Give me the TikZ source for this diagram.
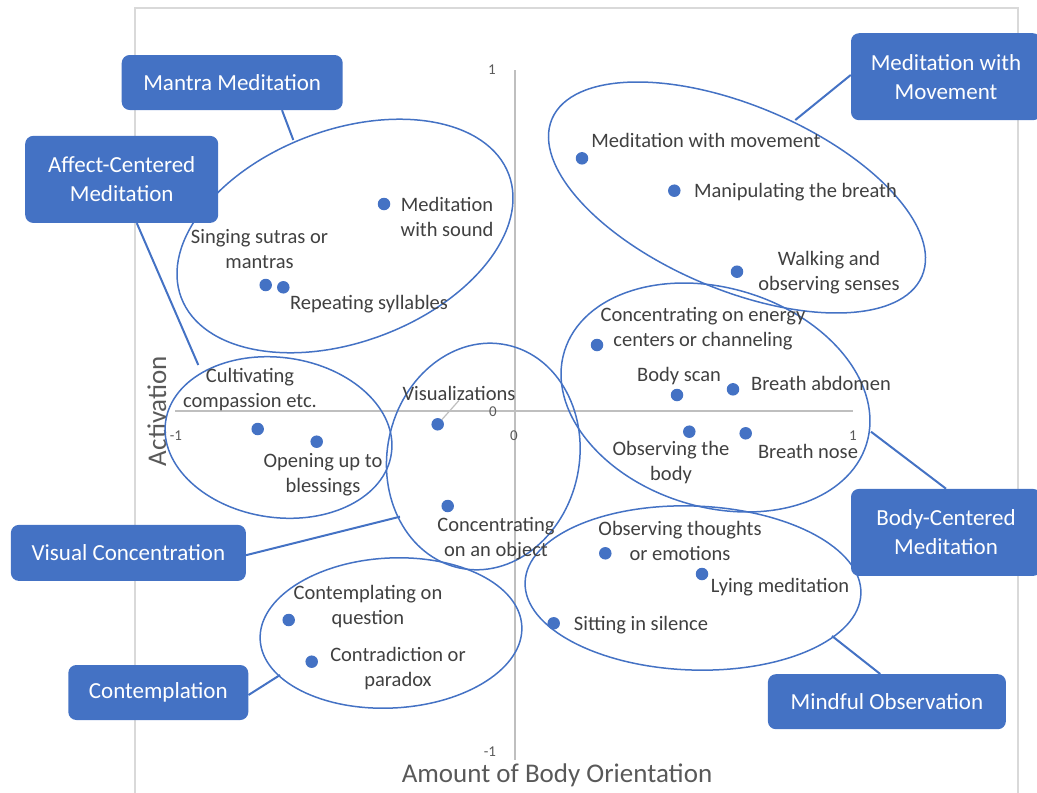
\documentclass[tikz,border=0pt]{standalone}
\usepackage{fontspec}
\setmainfont{Carlito}
\usetikzlibrary{calc}
\definecolor{cblue}{HTML}{4472C4}
\definecolor{ctext}{HTML}{404040}
\definecolor{caxis}{HTML}{BFBFBF}
\definecolor{cframe}{HTML}{D9D9D9}
\definecolor{ctitle}{HTML}{595959}
\tikzset{
  ell/.style={draw=cblue, line width=1.5pt},
  conn/.style={draw=cblue, line width=2pt},
  catbox/.style={fill=cblue, rounded corners=8pt, text=white, align=center, inner sep=0pt,
    font=\fontsize{23}{29}\selectfont},
  dot/.style={circle, fill=cblue, minimum size=12.5pt, inner sep=0pt},
  lbl/.style={text=ctext, align=center, inner sep=0pt, font=\fontsize{20.5}{25}\selectfont},
  tick/.style={text=ctitle, inner sep=0pt, font=\fontsize{15}{18}\selectfont},
  atitle/.style={text=ctitle, inner sep=0pt, font=\fontsize{27}{32}\selectfont}
}
\begin{document}
\begin{tikzpicture}[x=1pt, y=-1pt]
\useasboundingbox (0,0) rectangle (1037,793);
% plot frame
\draw[cframe, line width=1.5pt] (135,793) -- (135,8) -- (1018,8) -- (1018,793);
% axes
\draw[caxis, line width=1.3pt] (515,70) -- (515,760);
\draw[caxis, line width=1.3pt] (175,411) -- (853,411);
% tick labels
\node[tick] (t1) at (492,70) {1};
\node[tick] (t0a) at (493,412) {0};
\node[tick] (t0b) at (514,436) {0};
\node[tick] (tm1) at (176,436) {-1};
\node[tick] (tp1) at (853,436) {1};
\node[tick] (tm1b) at (490,752) {-1};
% axis titles
\node[atitle, rotate=90] (yt) at (157,411) {Activation};
\node[atitle] (xt) at (557,775) {Amount of Body Orientation};

% ellipses
\draw[ell, rotate around={20.6:(345,236)}] (345,236) ellipse [x radius=175pt, y radius=106pt];
\draw[ell, rotate around={-23:(737,197.5)}] (737,197.5) ellipse [x radius=201pt, y radius=92pt];
\draw[ell, rotate around={-17:(715.5,397.5)}] (715.5,397.5) ellipse [x radius=158pt, y radius=109.5pt];
\draw[ell, rotate around={-2:(693,588)}] (693,588) ellipse [x radius=168pt, y radius=82pt];
\draw[ell, rotate around={-12:(483.3,456.5)}] (483.3,456.5) ellipse [x radius=96pt, y radius=114pt];
\draw[ell, rotate around={-8:(278.5,437.5)}] (278.5,437.5) ellipse [x radius=114pt, y radius=80pt];
\draw[ell, rotate around={3:(391,633)}] (391,633) ellipse [x radius=131pt, y radius=75pt];

% ellipse touch points
\coordinate (cMan) at (293.3,140);
\coordinate (cAff) at (198.3,365);
\coordinate (cMov) at (795.3,120);
\coordinate (cBody) at (871,431.7);
\coordinate (cMind) at (832,636);
\coordinate (cVis) at (400,516.7);
\coordinate (cCon) at (280,675);

% boxes
\node[catbox, minimum width=221pt, minimum height=55pt] (bMan) at (232.2,82.5) {Mantra Meditation};
\node[catbox, minimum width=193pt, minimum height=87pt] (bAff) at (121.7,179.4) {Affect-Centered\\Meditation};
\node[catbox, minimum width=190pt, minimum height=87pt] (bMov) at (946,76.7) {Meditation with\\Movement};
\node[catbox, minimum width=190pt, minimum height=87pt] (bBody) at (946,532.4) {Body-Centered\\Meditation};
\node[catbox, minimum width=238pt, minimum height=55pt] (bMind) at (886.9,701.7) {Mindful Observation};
\node[catbox, minimum width=235pt, minimum height=56pt] (bVis) at (128.4,552.9) {Visual Concentration};
\node[catbox, minimum width=180pt, minimum height=55pt] (bCon) at (158.3,692.5) {Contemplation};

% connectors
\draw[conn] ($(bMan.south west)!0.725!(bMan.south east)$) -- (cMan);
\draw[conn] ($(bAff.south west)!0.578!(bAff.south east)$) -- (cAff);
\draw[conn] ($(bMov.north west)!0.48!(bMov.south west)$) -- (cMov);
\draw[conn] (bBody.north) -- (cBody);
\draw[conn] ($(bMind.north west)!0.472!(bMind.north east)$) -- (cMind);
\draw[conn] ($(bVis.north east)!0.54!(bVis.south east)$) -- (cVis);
\draw[conn] ($(bCon.north east)!0.545!(bCon.south east)$) -- (cCon);

% dots
\node[dot] (dSound) at (384,204) {};
\node[dot] (dSing) at (265.7,285) {};
\node[dot] (dRep) at (283.3,287.3) {};
\node[dot] (dMove) at (582,158.3) {};
\node[dot] (dManip) at (674.3,190.7) {};
\node[dot] (dWalk) at (737,271.7) {};
\node[dot] (dEnergy) at (597,345) {};
\node[dot] (dScan) at (677,395) {};
\node[dot] (dAbd) at (733,389.3) {};
\node[dot] (dObsB) at (689.3,431.7) {};
\node[dot] (dNose) at (745.7,433.3) {};
\node[dot] (dThou) at (605.3,553.3) {};
\node[dot] (dLying) at (702,574) {};
\node[dot] (dSit) at (553.7,623.3) {};
\node[dot] (dComp) at (257.7,429) {};
\node[dot] (dOpen) at (316.7,441.7) {};
\node[dot] (dVisu) at (437.7,424.3) {};
\node[dot] (dObj) at (447.7,506) {};
\node[dot] (dQues) at (288.7,620) {};
\node[dot] (dContr) at (311.7,661.7) {};

% labels
\node[lbl] (lSound) at (447,217) {Meditation\\with sound};
\node[lbl] (lSing) at (259.5,249) {Singing sutras or\\mantras};
\node[lbl] (lRep) at (369,304) {Repeating syllables};
\node[lbl] (lMove) at (706,140) {Meditation with movement};
\node[lbl] (lManip) at (795.5,192) {Manipulating the breath};
\node[lbl] (lWalk) at (829,273) {Walking and\\observing senses};
\node[lbl] (lEnergy) at (703,329) {Concentrating on energy\\centers or channeling};
\node[lbl] (lScan) at (679,376) {Body scan};
\node[lbl] (lAbd) at (821,383) {Breath abdomen};
\node[lbl] (lObsB) at (671,463) {Observing the\\body};
\node[lbl] (lNose) at (808,451) {Breath nose};
\node[lbl] (lThou) at (680,541) {Observing thoughts\\or emotions};
\node[lbl] (lLying) at (780,587) {Lying meditation};
\node[lbl] (lSit) at (641,625) {Sitting in silence};
\node[lbl] (lComp) at (250,390) {Cultivating\\compassion etc.};
\node[lbl] (lOpen) at (323,475) {Opening up to\\blessings};
\node[lbl] (lVisu) at (459,393) {Visualizations};
\node[lbl] (lObj) at (496,539) {Concentrating\\on an object};
\node[lbl] (lQues) at (368,607) {Contemplating on\\question};
\node[lbl] (lContr) at (398,669) {Contradiction or\\paradox};

\draw[caxis, line width=1.2pt] (dVisu) -- (lVisu.south);
\end{tikzpicture}
\end{document}
